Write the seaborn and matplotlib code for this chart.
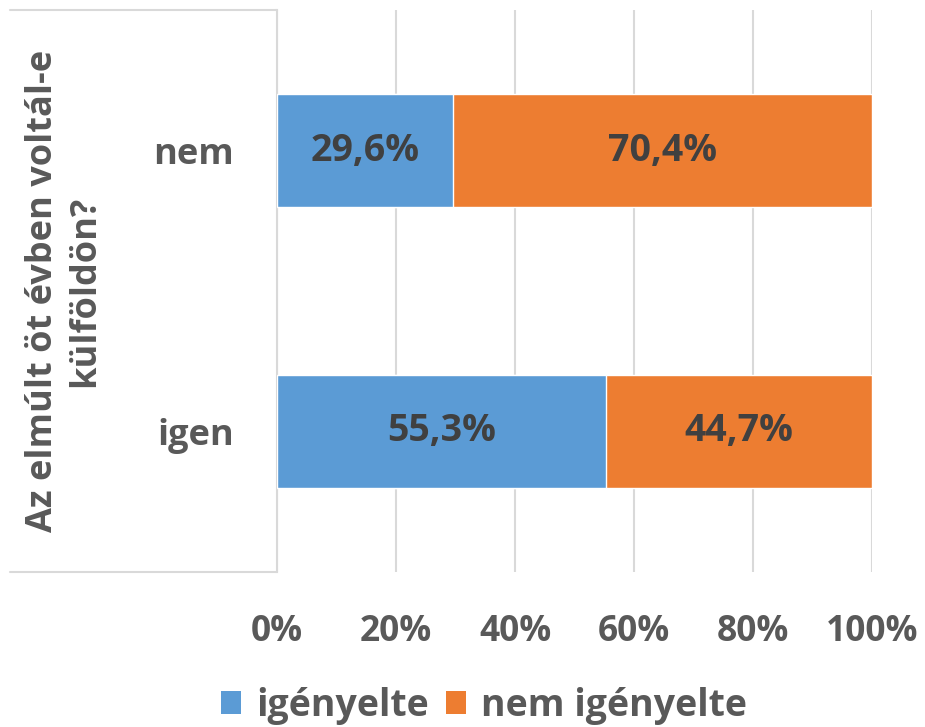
import matplotlib
matplotlib.use("Agg")
import matplotlib.pyplot as plt
from matplotlib.patches import Patch
from matplotlib.lines import Line2D
import seaborn as sns
import pandas as pd

# Survey answers: did the respondent spend time abroad in the last five years?
categories = ["nem", "igen"]
igenyelte = [29.6, 55.3]
nem_igenyelte = [70.4, 44.7]
xticks = [0, 20, 40, 60, 80, 100]
series_names = ["igényelte", "nem igényelte"]
axis_title = "Az elmúlt öt évben voltál-e\nkülföldön?"

BLUE = "#5B9BD5"
ORANGE = "#ED7D31"
GRID = "#D9D9D9"
TICK_TXT = "#595959"
VAL_TXT = "#404040"

sns.set_theme(style="white")
plt.rcParams["font.family"] = ["Open Sans", "DejaVu Sans"]
plt.rcParams["font.weight"] = "bold"

df = pd.DataFrame({
    "kategoria": categories,
    "igenyelte": igenyelte,
    "nem_igenyelte": nem_igenyelte,
})
df["osszes"] = df["igenyelte"] + df["nem_igenyelte"]

W, H = 925, 727
fig = plt.figure(figsize=(W / 100, H / 100), dpi=100)
x0, x1, y0, y1 = 277, 872, 10, 572
ax = fig.add_axes([x0 / W, 1 - y1 / H, (x1 - x0) / W, (y1 - y0) / H])

# Stacked bars: full total in orange behind, the first share in blue on top
sns.barplot(data=df, x="osszes", y="kategoria", order=categories, color=ORANGE,
            width=0.4, saturation=1, ax=ax, orient="h", zorder=2)
sns.barplot(data=df, x="igenyelte", y="kategoria", order=categories, color=BLUE,
            width=0.4, saturation=1, ax=ax, orient="h", zorder=3)

for i, (a, b) in enumerate(zip(igenyelte, nem_igenyelte)):
    ax.text(a / 2, i, f"{a:.1f}%".replace(".", ","), ha="center", va="center",
            fontsize=27, fontweight="bold", color=VAL_TXT, zorder=4)
    ax.text(a + b / 2, i, f"{b:.1f}%".replace(".", ","), ha="center", va="center",
            fontsize=27, fontweight="bold", color=VAL_TXT, zorder=4)

ax.set_xlim(0, 100)
ax.set_ylim(1.5, -0.5)
ax.set_xticks(xticks)
ax.set_xticklabels([f"{t}%" for t in xticks])
ax.xaxis.grid(True, color=GRID, linewidth=1.5, zorder=0)
ax.set_axisbelow(True)
ax.tick_params(axis="x", length=0, pad=30, labelsize=25.5, labelcolor=TICK_TXT)
ax.tick_params(axis="y", length=0, pad=31, labelsize=26, labelcolor=TICK_TXT)
for lab in ax.get_xticklabels() + ax.get_yticklabels():
    lab.set_fontweight("bold")
ax.set_xlabel("")
ax.set_ylabel("")
for s in ["top", "right", "bottom"]:
    ax.spines[s].set_visible(False)
ax.spines["left"].set_color(GRID)
ax.spines["left"].set_linewidth(1.5)

# Category-axis frame to the left of the plot
fy = lambda y: 1 - y / H
fig.add_artist(Line2D([10 / W, x0 / W], [fy(y0), fy(y0)], color=GRID, lw=1.5))
fig.add_artist(Line2D([10 / W, x0 / W], [fy(y1), fy(y1)], color=GRID, lw=1.5))

fig.text(64 / W, fy(291), axis_title, rotation=90, ha="center", va="center",
         fontsize=26, fontweight="bold", color=TICK_TXT, linespacing=1.22)

handles = [Patch(facecolor=BLUE, edgecolor="none"), Patch(facecolor=ORANGE, edgecolor="none")]
leg = fig.legend(handles, series_names, loc="center", bbox_to_anchor=(484 / W, fy(706)),
                 ncol=2, frameon=False, fontsize=27, handlelength=0.55, handleheight=0.55,
                 handletextpad=0.4, columnspacing=0.45)
for t in leg.get_texts():
    t.set_color(TICK_TXT)
    t.set_fontweight("bold")

fig.savefig("out.png", dpi=100)
